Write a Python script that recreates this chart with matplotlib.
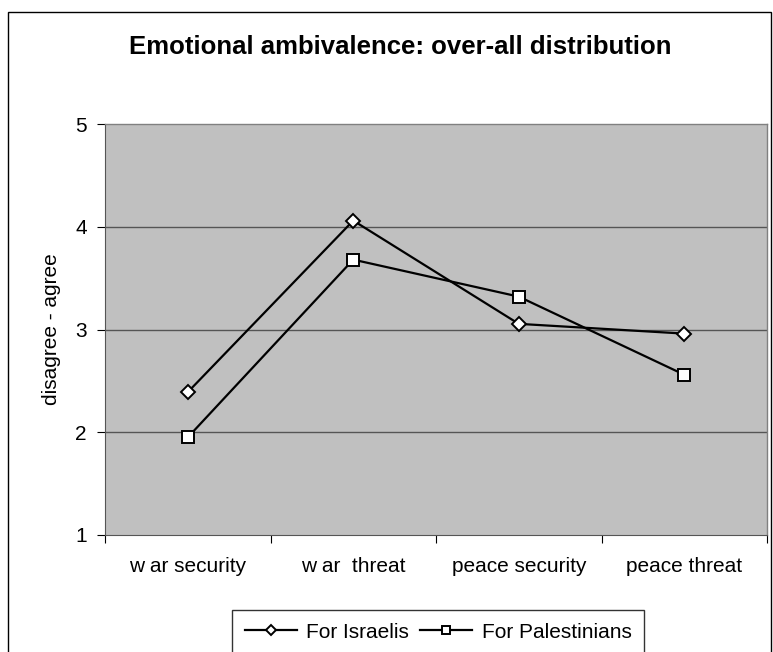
import matplotlib
matplotlib.use("Agg")
import matplotlib.pyplot as plt
from matplotlib.patches import Rectangle

categories = ["w ar security", "w ar  threat", "peace security", "peace threat"]
israelis = [2.39, 4.06, 3.055, 2.96]
palestinians = [1.95, 3.68, 3.32, 2.56]
y_ticks = [1, 2, 3, 4, 5]

plt.rcParams["font.family"] = ["Liberation Sans", "DejaVu Sans"]

W, H = 773, 652
fig = plt.figure(figsize=(W / 100, H / 100), dpi=100)
fig.patch.set_facecolor("white")

# outer chart border (bottom runs off the canvas)
fig.patches.append(Rectangle((8 / W, -0.1), (771 - 8) / W, 1 - 12 / H + 0.1,
                             transform=fig.transFigure, fill=False,
                             edgecolor="black", lw=1.0))

ax = fig.add_axes([105 / W, 1 - 535 / H, (767 - 105) / W, (535 - 124) / H])
ax.set_facecolor("#C0C0C0")

x = list(range(len(categories)))
ax.plot(x, israelis, color="black", lw=1.6, marker="D", ms=7,
        mfc="white", mec="black", mew=1.4, label="For Israelis", zorder=3)
ax.plot(x, palestinians, color="black", lw=1.6, marker="s", ms=8,
        mfc="white", mec="black", mew=1.4, label="For Palestinians", zorder=3)

ax.set_xlim(-0.5, len(categories) - 0.5)
ax.set_ylim(1, 5)
ax.set_yticks(y_ticks)
ax.set_yticklabels([str(v) for v in y_ticks], fontsize=15)
for v in y_ticks[1:-1]:
    ax.axhline(v, color="#555555", lw=1.0, zorder=1)

ax.set_xticks([i - 0.5 for i in range(len(categories) + 1)])
ax.set_xticklabels([])
ax.set_xticks(x, minor=True)
ax.set_xticklabels(categories, minor=True, fontsize=15)
ax.tick_params(axis="x", which="minor", length=0, pad=16)
ax.tick_params(axis="x", which="major", length=6, direction="out", color="black")
ax.tick_params(axis="y", length=6, direction="out", color="black", pad=7)

for s in ["top", "right"]:
    ax.spines[s].set_color("#808080")
    ax.spines[s].set_linewidth(1.0)
ax.spines["left"].set_color("#555555")
ax.spines["bottom"].set_color("#555555")

ax.set_ylabel("disagree - agree", fontsize=15, labelpad=10)

fig.text(400 / W, 1 - 54 / H, "Emotional ambivalence: over-all distribution",
         ha="center", va="baseline", fontsize=18.5, fontweight="bold")

leg = fig.legend(loc="upper left", bbox_to_anchor=(232 / W, 1 - 610 / H), ncol=2,
                 fontsize=15, frameon=True, fancybox=False, borderpad=0.6,
                 handlelength=2.5, handletextpad=0.45, columnspacing=0.55,
                 markerscale=0.75, borderaxespad=0)
leg.get_frame().set_edgecolor("black")
leg.get_frame().set_linewidth(1.0)

fig.savefig("out.png", dpi=100)
